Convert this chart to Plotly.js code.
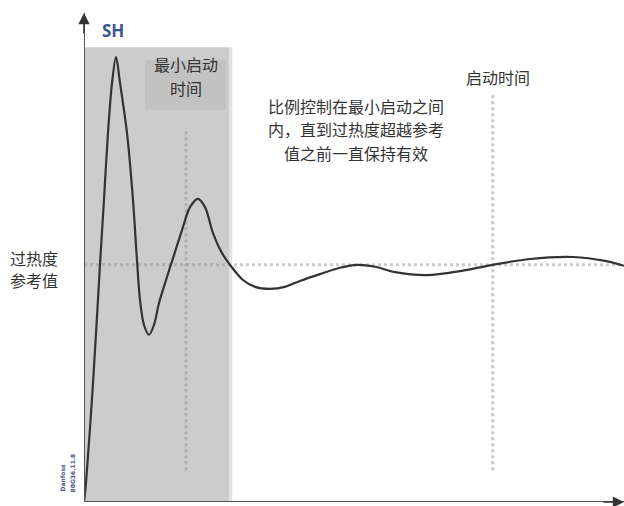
<!DOCTYPE html>
<html>
<head>
<meta charset="utf-8">
<script src="https://cdn.plot.ly/plotly-3.0.1.min.js"></script>
<style>html,body{margin:0;padding:0;background:#fff;}#chart{width:624px;height:506px;}</style>
</head>
<body>
<div id="chart"></div>
<script>
// time (arbitrary units 0-100) and superheat SH (arbitrary units 0-100)
const time = [0, 0.37, 1.67, 2.96, 3.70, 4.44, 5.19, 5.93, 6.67, 7.96, 9.07, 9.81, 10.37, 11.11, 12.04, 12.96, 13.89, 15.19, 16.67, 18.15, 19.63, 21.11, 22.41, 23.89, 25.56, 27.04, 29.44, 31.67, 34.44, 37.2, 40.0, 43.7, 47.4, 50.6, 53.9, 57.6, 63.5, 69.6, 75.7, 82.6, 90.6, 96.5, 100];
const sh   = [0, 3.9, 24.3, 48.5, 61.8, 75.5, 85.7, 91.0, 85.7, 75.5, 61.8, 49.5, 41.3, 36.2, 34.2, 36.2, 40.7, 45.4, 50.5, 55.6, 60.3, 62.0, 60.3, 55.0, 50.9, 48.5, 45.4, 44.0, 43.6, 44.0, 45.2, 46.6, 47.9, 48.5, 48.1, 47.0, 46.4, 47.2, 48.5, 49.7, 50.1, 49.3, 48.3];
const shReference = 48.5;          // 过热度参考值
const minStartTimeEnd = 26.85;     // end of 最小启动时间 band
const shadedTop = 93;
const markerTimes = [18.9, 75.7];  // dotted vertical markers
const markerTops = [76.5, 83.6];
const markerBottom = 6.5;
const labelBox = {x0: 11.3, x1: 26.3, y0: 80.2, y1: 90.4};
const noteLines = ['比例控制在最小启动之间', '内，直到过热度超越参考', '值之前一直保持有效'];
const boxLines = ['最小启动', '时间'];
const refLines = ['过热度', '参考值'];

const cjk = '"Noto Sans CJK SC", "Noto Sans", sans-serif';
const txt = '#333';
const dotColor = 'rgba(140,140,140,0.45)';

const shapes = [
  {type:'rect', xref:'x', yref:'y', x0:0, x1:minStartTimeEnd, y0:0, y1:shadedTop, fillcolor:'#cccccc', line:{width:0}, layer:'below'},
  {type:'rect', xref:'x', yref:'y', x0:minStartTimeEnd, x1:minStartTimeEnd+0.6, y0:0, y1:shadedTop, fillcolor:'#e2e2e2', line:{width:0}, layer:'below'},
  {type:'rect', xref:'x', yref:'y', x0:labelBox.x0, x1:labelBox.x1, y0:labelBox.y0, y1:labelBox.y1, fillcolor:'#c2c2c2', line:{width:0}, layer:'below'},
  {type:'line', xref:'x', yref:'y', x0:0, x1:100, y0:shReference, y1:shReference, line:{color:dotColor, width:3, dash:'dot'}, layer:'below'}
];
markerTimes.forEach((t,i)=>{
  shapes.push({type:'line', xref:'x', yref:'y', x0:t, x1:t, y0:markerBottom, y1:markerTops[i], line:{color:dotColor, width:3, dash:'dot'}, layer:'below'});
});
shapes.push({type:'line', xref:'x', yref:'y', x0:0, x1:0, y0:0, y1:100, line:{color:'#555', width:2}});
shapes.push({type:'line', xref:'x', yref:'y', x0:0, x1:100, y0:0, y1:0, line:{color:'#555', width:2}});

const annotations = [
  {x:0, y:100, xref:'x', yref:'y', ax:0, ay:22, text:'', showarrow:true, arrowhead:2, arrowsize:1.4, arrowwidth:1.6, arrowcolor:'#333'},
  {x:100, y:0, xref:'x', yref:'y', ax:-22, ay:0, text:'', showarrow:true, arrowhead:2, arrowsize:1.4, arrowwidth:1.6, arrowcolor:'#333'},
  {x:2.96, y:96.5, xref:'x', yref:'y', text:'<b>SH</b>', showarrow:false, xanchor:'left', font:{family:'"Open Sans", sans-serif', size:17, color:'#3a5592'}},
  {x:76.6, y:87.0, xref:'x', yref:'y', text:'启动时间', showarrow:false, font:{family:cjk, size:16, color:txt}},
  {x:-0.049, y:5.0, xref:'paper', yref:'y', text:'<b>Danfoss</b>', showarrow:false, textangle:-90, font:{family:'"DejaVu Sans", sans-serif', size:6, color:'#44558a'}},
  {x:-0.031, y:6.0, xref:'paper', yref:'y', text:'<b>80G36.11.8</b>', showarrow:false, textangle:-90, font:{family:'"DejaVu Sans", sans-serif', size:6, color:'#44558a'}}
];
const boxY = [89.6, 84.7];
boxLines.forEach((s,i)=>annotations.push({x:(labelBox.x0+labelBox.x1)/2, y:boxY[i], xref:'x', yref:'y', text:s, showarrow:false, font:{family:cjk, size:16, color:txt}}));
const noteY = [81.0, 76.3, 71.4];
noteLines.forEach((s,i)=>annotations.push({x:50.4, y:noteY[i], xref:'x', yref:'y', text:s, showarrow:false, font:{family:cjk, size:16, color:txt}}));
const refY = [49.9, 45.4];
refLines.forEach((s,i)=>annotations.push({x:-0.0444, y:refY[i], xref:'paper', yref:'y', text:s, showarrow:false, xanchor:'right', font:{family:cjk, size:16, color:txt}}));

const trace = {x:time, y:sh, mode:'lines', type:'scatter', line:{color:'#333', width:2.2, shape:'spline', smoothing:0.9}, hoverinfo:'skip', cliponaxis:false};

const layout = {
  width:624, height:506,
  margin:{l:84, r:0, t:13, b:4, pad:0},
  paper_bgcolor:'#ffffff', plot_bgcolor:'#ffffff',
  showlegend:false,
  xaxis:{range:[0,100], showgrid:false, zeroline:false, showticklabels:false, ticks:'', showline:false},
  yaxis:{range:[0,100], showgrid:false, zeroline:false, showticklabels:false, ticks:'', showline:false},
  shapes:shapes, annotations:annotations
};
Plotly.newPlot('chart', [trace], layout, {staticPlot:true, displayModeBar:false});
</script>
</body>
</html>
